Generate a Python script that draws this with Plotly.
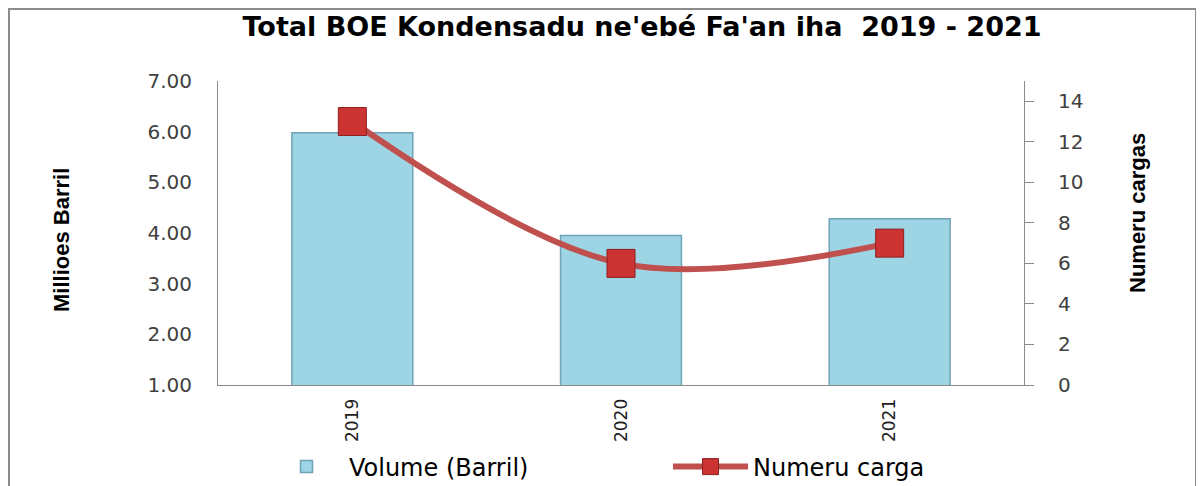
import plotly.graph_objects as go

years = ["2019", "2020", "2021"]
volume_mbbl = [5.98, 3.95, 4.28]
cargo_count = [13, 6, 7]

# The page body adds an 8 px offset; positions below are given in screen pixels
OFF = 8
W, H = 1204 - OFF, 486 - OFF
PL, PR, PT, PB = 218, 1024, 81, 385  # plot area in screen pixels
L, R, T, B = PL - OFF, W - (PR - OFF), PT - OFF, H - (PB - OFF)
pw, ph = PR - PL, PB - PT

def px_x(sx):
    return (sx - PL) / pw

def px_y(sy):
    return (PB - sy) / ph

fig = go.Figure()

fig.add_trace(go.Bar(
    x=years, y=volume_mbbl, name="Volume (Barril)",
    marker=dict(color="#9dd5e5", line=dict(color="#6fa3b5", width=1.5)),
    yaxis="y",
))

fig.add_trace(go.Scatter(
    x=years, y=cargo_count, name="Numeru carga", mode="lines+markers",
    line=dict(color="#c0504d", width=6, shape="spline", smoothing=1.0),
    marker=dict(symbol="square", size=28, color="#cc3333",
                line=dict(color="#8e1f1f", width=1)),
    yaxis="y2",
))

tick_font = dict(family="DejaVu Sans, Verdana, sans-serif", size=20, color="#404040")

fig.update_layout(
    width=W, height=H,
    margin=dict(l=L, r=R, t=T, b=B, autoexpand=False),
    paper_bgcolor="white", plot_bgcolor="white",
    bargap=0.55,
    title=dict(
        text="Total BOE Kondensadu ne'ebé Fa'an iha  2019 - 2021",
        font=dict(family="DejaVu Sans, Verdana, sans-serif", size=27, color="black", weight="bold"),
        x=(642 - OFF) / W, xanchor="center", xref="container",
        y=1 - (27 - OFF) / H, yanchor="middle", yref="container",
    ),
    xaxis=dict(
        type="category", tickangle=-90, showgrid=False,
        showline=True, linecolor="#8a8a8a", linewidth=1,
        ticks="", ticklabelstandoff=6,
        tickfont=dict(family="DejaVu Sans, Verdana, sans-serif", size=17, color="#202020"),
    ),
    yaxis=dict(
        range=[1, 7], dtick=1, tickformat=".2f", showgrid=False,
        showline=True, linecolor="#8a8a8a", linewidth=1,
        ticks="", ticklabelstandoff=21, tickfont=tick_font, zeroline=False,
    ),
    yaxis2=dict(
        range=[0, 15], tick0=0, dtick=2, overlaying="y", side="right",
        showgrid=False, showline=True, linecolor="#8a8a8a", linewidth=1,
        ticks="outside", ticklen=9, tickcolor="#8a8a8a",
        ticklabelstandoff=20, tickfont=tick_font, zeroline=False,
    ),
    legend=dict(
        orientation="h", xref="container", x=(264 - OFF) / W, xanchor="left",
        y=(H - (467 - OFF)) / H, yanchor="middle", yref="container",
        font=dict(family="DejaVu Sans, Verdana, sans-serif", size=24, color="black"),
        itemwidth=75, entrywidth=314, entrywidthmode="pixels",
        bgcolor="rgba(0,0,0,0)",
    ),
    showlegend=True,
    annotations=[
        dict(text="<b>Millioes Barril</b>", textangle=-90, showarrow=False,
             xref="paper", yref="paper", x=px_x(61), y=px_y(240),
             xanchor="center", yanchor="middle",
             font=dict(family="Liberation Sans, Arial, sans-serif", size=22, color="black")),
        dict(text="<b>Numeru cargas</b>", textangle=-90, showarrow=False,
             xref="paper", yref="paper", x=px_x(1137), y=px_y(213),
             xanchor="center", yanchor="middle",
             font=dict(family="Liberation Sans, Arial, sans-serif", size=22, color="black")),
    ],
    shapes=[
        dict(type="rect", xref="paper", yref="paper",
             x0=px_x(OFF + 1), x1=px_x(1196), y0=px_y(500), y1=px_y(OFF + 1),
             line=dict(color="#8c8c8c", width=2), fillcolor="rgba(0,0,0,0)", layer="below"),
    ],
)

fig.write_html("out.html")
